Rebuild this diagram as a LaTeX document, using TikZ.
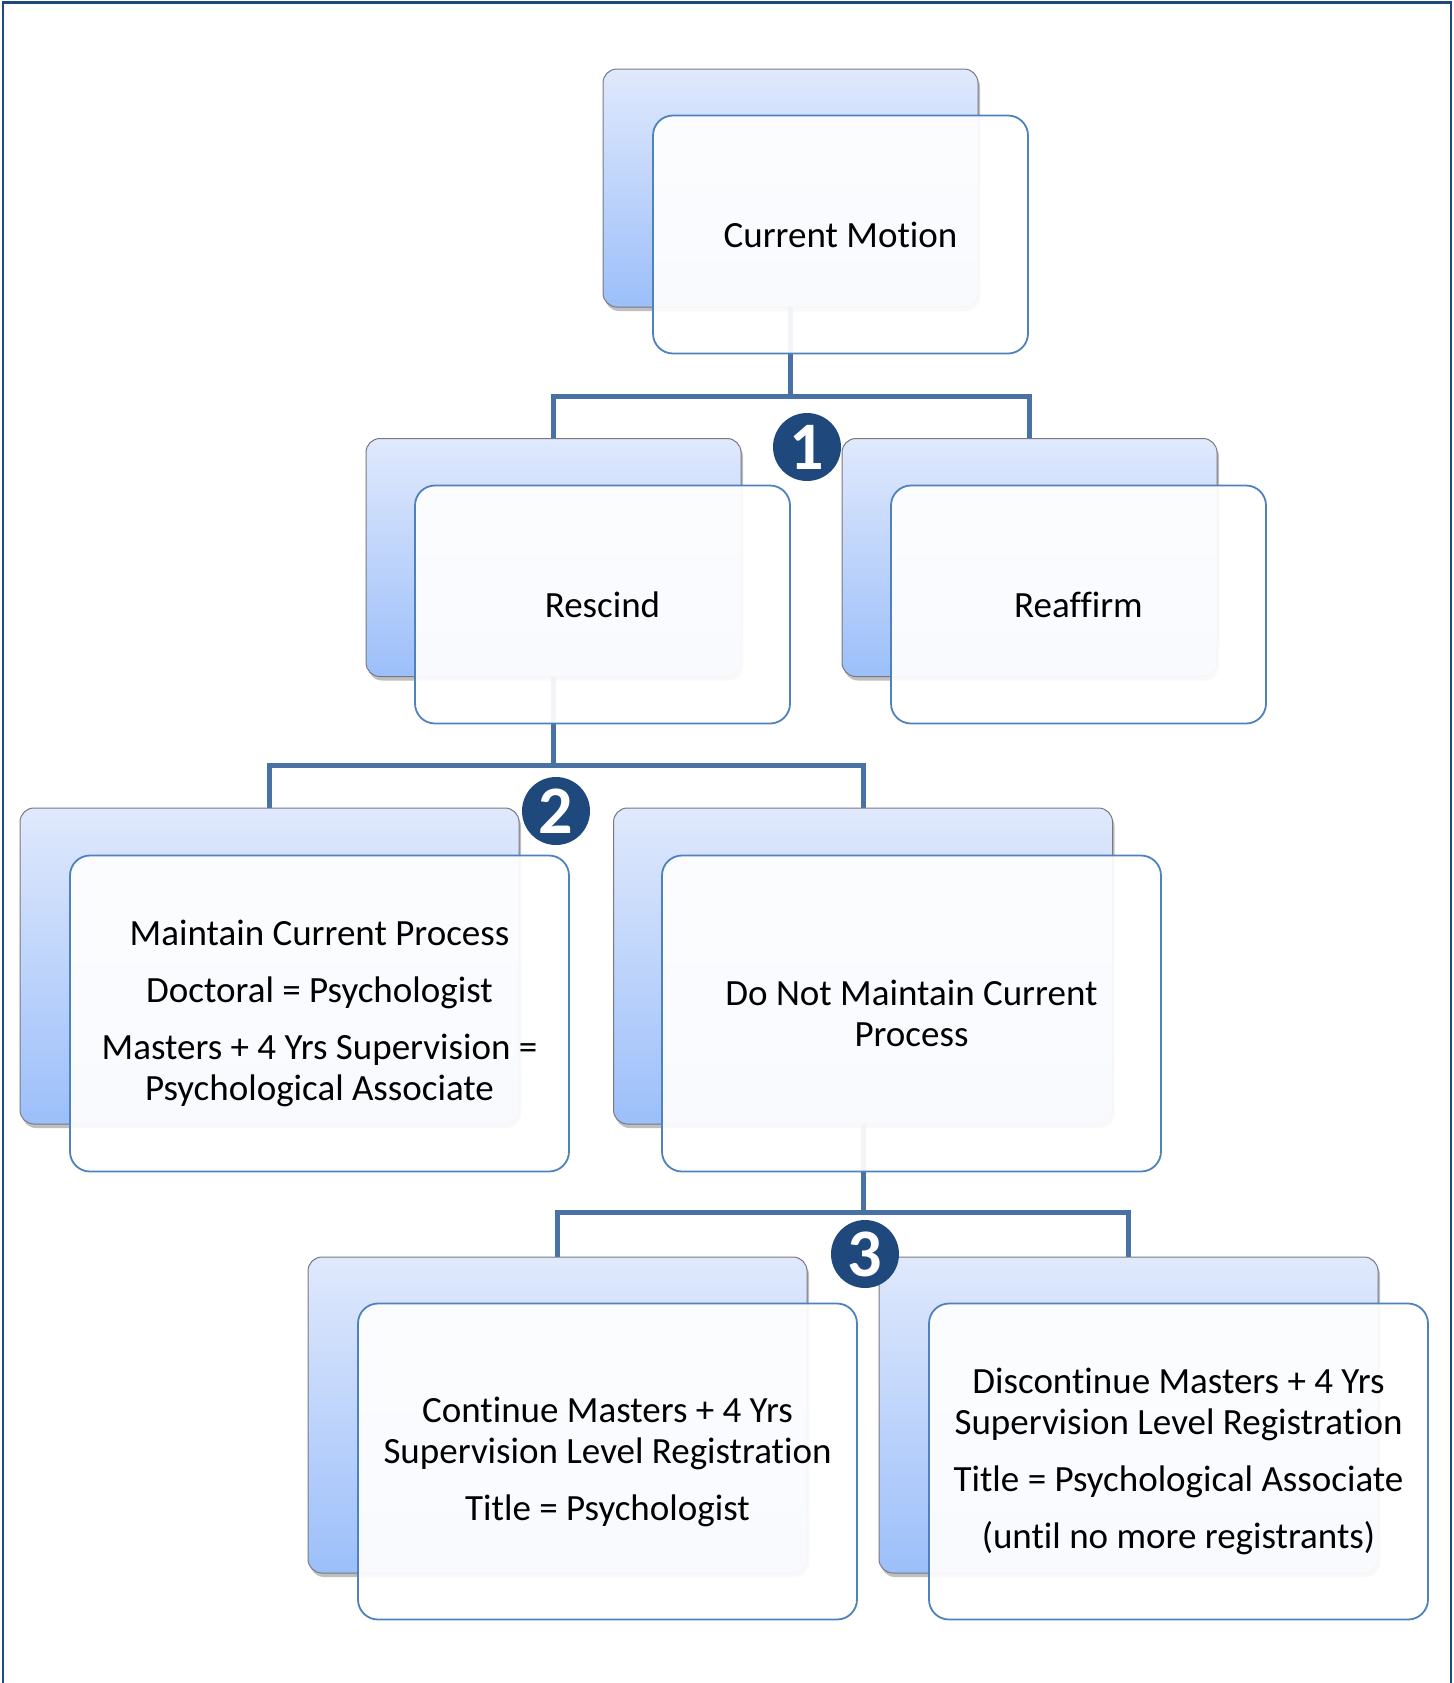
\documentclass[tikz,border=0pt]{standalone}
\usepackage{fontspec}
\setmainfont[Ligatures={NoCommon}]{Carlito}
\usetikzlibrary{shadows}
\definecolor{bTop}{RGB}{224,233,252}
\definecolor{bBot}{RGB}{156,191,250}
\definecolor{fBorder}{RGB}{79,129,189}
\definecolor{connC}{RGB}{72,113,166}
\definecolor{badgeC}{RGB}{31,73,125}
\definecolor{bEdge}{RGB}{120,122,130}
\pgfdeclarelayer{bg}
\pgfsetlayers{bg,main}
\begin{document}
\begin{tikzpicture}[x=0.5pt,y=-0.5pt,
  backbox/.style={rounded corners=7pt, draw=bEdge, line width=0.5pt, top color=bTop, bottom color=bBot,
    drop shadow={shadow xshift=1pt, shadow yshift=-2pt, opacity=0.25, fill=black}, inner sep=0pt, outer sep=0pt},
  frontbox/.style={rounded corners=10pt, draw=fBorder, line width=0.9pt, fill=white, fill opacity=0.93,
    text opacity=1, inner sep=0pt, outer sep=0pt, align=center, font=\fontsize{18.5}{20.5}\selectfont},
  smallbox/.style={minimum width=187.5pt, minimum height=119pt},
  bigbox/.style={minimum width=249.5pt, minimum height=158pt},
  conn/.style={draw=connC, line width=2.5pt},
  badge/.style={circle, fill=badgeC, text=white, minimum size=34pt, inner sep=0pt,
    font=\fontsize{34}{34}\bfseries\selectfont},
  frame/.style={draw=badgeC, line width=1.25pt}
]
\useasboundingbox (0,0) rectangle (1453,1683);
\draw[frame] (3,1683) -- (3,2.5) -- (1451,2.5) -- (1451,1683);

% back boxes
\node[backbox,smallbox] (cmB) at (790.5,188) {};
\node[backbox,smallbox] (rsB) at (553.5,557.5) {};
\node[backbox,smallbox] (rfB) at (1029.5,557.5) {};
\node[backbox,bigbox] (mtB) at (269.5,966) {};
\node[backbox,bigbox] (dnB) at (863,966) {};
\node[backbox,bigbox] (coB) at (557.5,1415) {};
\node[backbox,bigbox] (diB) at (1128.5,1415) {};

% front boxes
\node[frontbox,smallbox] (cmF) at (840.5,234.5) {Current Motion};
\node[frontbox,smallbox] (rsF) at (602.5,604.5) {Rescind};
\node[frontbox,smallbox] (rfF) at (1078.5,604.5) {Reaffirm};
\node[frontbox,bigbox] (mtF) at (319.5,1013.5) {Maintain Current Process\\[8pt]Doctoral = Psychologist\\[8pt]Masters + 4 Yrs Supervision =\\Psychological Associate};
\node[frontbox,bigbox] (dnF) at (911.5,1013.5) {Do Not Maintain Current\\Process};
\node[frontbox,bigbox] (coF) at (607.5,1461.5) {Continue Masters + 4 Yrs\\Supervision Level Registration\\[8pt]Title = Psychologist};
\node[frontbox,bigbox] (diF) at (1178.5,1461.5) {Discontinue Masters + 4 Yrs\\Supervision Level Registration\\[8pt]Title = Psychological Associate\\[8pt](until no more registrants)};

% connectors
\coordinate (j1) at (790.5,396);
\coordinate (j2) at (553.5,765);
\coordinate (j3) at (863,1212);
\begin{pgfonlayer}{bg}
\draw[conn] (cmB.south) -- (j1);
\draw[conn] (rsB.north) |- (j1) -| (rfB.north);
\draw[conn] (rsB.south) -- (j2);
\draw[conn] (mtB.north) |- (j2) -| (dnB.north);
\draw[conn] (dnB.south) -- (j3);
\draw[conn] (coB.north) |- (j3) -| (diB.north);
\end{pgfonlayer}

% badges
\node[badge] (b1) at (807,447) {1};
\node[badge] (b2) at (556,811) {2};
\node[badge] (b3) at (865,1254) {3};
\end{tikzpicture}
\end{document}
